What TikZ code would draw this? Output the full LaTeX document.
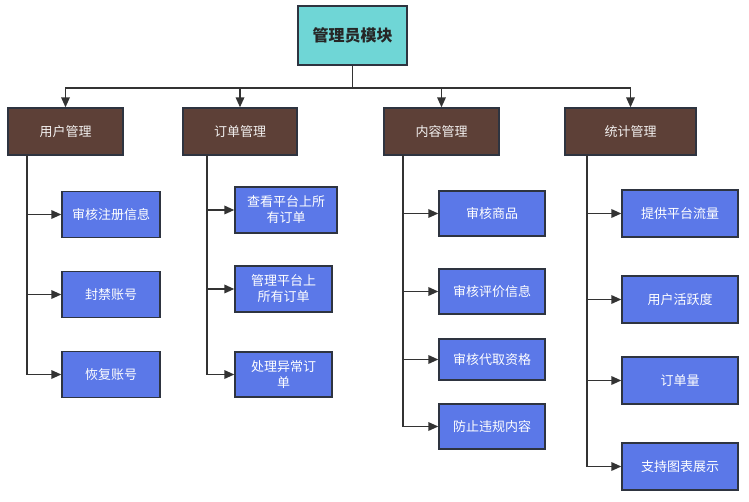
\documentclass[tikz,border=0pt]{standalone}
\usepackage{fontspec}
\setmainfont{Noto Sans CJK SC}
\usetikzlibrary{arrows.meta}
\definecolor{rootfill}{HTML}{6FD6D6}
\definecolor{catfill}{HTML}{5D4037}
\definecolor{leaffill}{HTML}{5B78E8}
\definecolor{edgecol}{HTML}{2E3440}
\definecolor{linecol}{HTML}{333333}
\tikzset{
  rootbox/.style={draw=edgecol,line width=1.4pt,fill=rootfill,minimum width=109pt,minimum height=59pt,inner sep=0pt,font=\fontsize{16}{19}\selectfont\bfseries,text=black!85},
  catbox/.style={draw=edgecol,line width=1.3pt,fill=catfill,minimum height=47pt,inner sep=0pt,font=\fontsize{13}{16}\selectfont,text=white!92!catfill},
  leafbox/.style={draw=edgecol,line width=1.3pt,fill=leaffill,minimum height=46pt,inner sep=0pt,align=center,font=\fontsize{13}{16}\selectfont,text=white},
  conn/.style={draw=linecol,line width=1.7pt},
  arr/.style={conn,-{Triangle[length=10pt,width=8.5pt]}}
}
\begin{document}
\begin{tikzpicture}[x=1pt,y=-1pt]
\useasboundingbox (0,0) rectangle (749,502);
% root
\node[rootbox] (root) at (352.5,35.5) {管理员模块};
% categories
\node[catbox,minimum width=115pt] (c1) at (65.5,131.5) {用户管理};
\node[catbox,minimum width=114pt] (c2) at (240,131.5) {订单管理};
\node[catbox,minimum width=115pt] (c3) at (441.5,131.5) {内容管理};
\node[catbox,minimum width=131pt] (c4) at (630.5,131.5) {统计管理};
% leaves - user
\node[leafbox,minimum width=98pt] (u1) at (111,214.5) {审核注册信息};
\node[leafbox,minimum width=98pt] (u2) at (111,294.5) {封禁账号};
\node[leafbox,minimum width=98pt] (u3) at (111,374.5) {恢复账号};
% leaves - order
\node[leafbox,minimum width=102pt] (o1) at (286,210) {查看平台上所\\有订单};
\node[leafbox,minimum width=97pt] (o2) at (283.5,289) {管理平台上\\所有订单};
\node[leafbox,minimum width=97pt,minimum height=45pt] (o3) at (283.5,374.5) {处理异常订\\单};
% leaves - content
\node[leafbox,minimum width=106pt,minimum height=45pt] (n1) at (492,213.5) {审核商品};
\node[leafbox,minimum width=106pt,minimum height=45pt] (n2) at (492,291.5) {审核评价信息};
\node[leafbox,minimum width=106pt,minimum height=41pt] (n3) at (492,359.5) {审核代取资格};
\node[leafbox,minimum width=106pt,minimum height=45pt] (n4) at (492,426.5) {防止违规内容};
% leaves - stats
\node[leafbox,minimum width=116pt,minimum height=47pt] (s1) at (680,213.5) {提供平台流量};
\node[leafbox,minimum width=116pt,minimum height=47pt] (s2) at (680,299.5) {用户活跃度};
\node[leafbox,minimum width=116pt,minimum height=47pt] (s3) at (680,380.5) {订单量};
\node[leafbox,minimum width=116pt,minimum height=47pt] (s4) at (680,466.5) {支持图表展示};
% top connectors
\coordinate (bar) at (352.5,88);
\draw[conn] (root.south) -- (bar);
\draw[arr] (bar) -| (c1.north);
\draw[arr] (bar) -| (c2.north);
\draw[arr] (bar) -| (c3.north);
\draw[arr] (bar) -| (c4.north);
% spines
\coordinate (us) at (27,155);
\coordinate (os) at (207,155);
\coordinate (ns) at (403,155);
\coordinate (ss) at (587,155);
\draw[arr] (us) |- (u3.west);
\draw[arr] (us |- u1.west) -- (u1.west);
\draw[arr] (us |- u2.west) -- (u2.west);
\draw[arr] (os) |- (o3.west);
\draw[arr] (os |- o1.west) -- (o1.west);
\draw[arr] (os |- o2.west) -- (o2.west);
\draw[arr] (ns) |- (n4.west);
\draw[arr] (ns |- n1.west) -- (n1.west);
\draw[arr] (ns |- n2.west) -- (n2.west);
\draw[arr] (ns |- n3.west) -- (n3.west);
\draw[arr] (ss) |- (s4.west);
\draw[arr] (ss |- s1.west) -- (s1.west);
\draw[arr] (ss |- s2.west) -- (s2.west);
\draw[arr] (ss |- s3.west) -- (s3.west);
\end{tikzpicture}
\end{document}
